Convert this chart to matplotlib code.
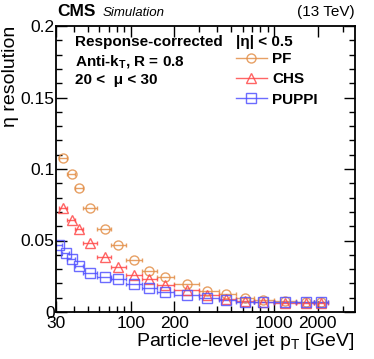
import matplotlib
matplotlib.use("Agg")
import matplotlib.pyplot as plt
from matplotlib.ticker import FixedLocator, NullFormatter, MultipleLocator
from matplotlib.lines import Line2D
import numpy as np

plt.rcParams['font.family'] = ['Liberation Sans', 'DejaVu Sans']
plt.rcParams['mathtext.fontset'] = 'custom'
plt.rcParams['mathtext.rm'] = 'Liberation Sans'
plt.rcParams['mathtext.it'] = 'Liberation Sans:italic'
plt.rcParams['mathtext.bf'] = 'Liberation Sans:bold'

# --- data ---
pt_pf = [33.7, 38.6, 43.4, 51.9, 65.7, 81.4, 105, 133, 173, 246, 339, 463, 622, 836, 1185, 1653, 2106]
lo_pf = [31.5, 36, 41, 46.5, 57.5, 72.5, 92, 120, 152, 200, 300, 410, 540, 720, 1000, 1420, 1900]
hi_pf = [36, 41, 46.5, 57.5, 72.5, 92, 120, 152, 200, 300, 410, 540, 720, 1000, 1420, 1900, 2380]
res_pf = [0.108, 0.0963, 0.0867, 0.0725, 0.0583, 0.0466, 0.0364, 0.0287, 0.0247, 0.0194, 0.0150,
          0.0125, 0.0100, 0.0084, 0.0076, 0.0072, 0.0071]
res_chs = [0.0725, 0.0643, 0.0580, 0.0480, 0.0383, 0.0316, 0.0257, 0.0231, 0.0188, 0.0152, 0.0117,
           0.0090, 0.0078, 0.0068, 0.0066, 0.0065, 0.0065]
pt_puppi = [31.4, 35.2, 38.6, 43.4, 51.9, 65.7, 81.4, 105, 133, 173, 246, 339, 463, 622, 836, 1185, 1653, 2106]
lo_puppi = [30, 33, 36, 41, 46.5, 57.5, 72.5, 92, 120, 152, 200, 300, 410, 540, 720, 1000, 1420, 1900]
hi_puppi = [33, 37, 41, 46.5, 57.5, 72.5, 92, 120, 152, 200, 300, 410, 540, 720, 1000, 1420, 1900, 2380]
res_puppi = [0.0472, 0.0410, 0.0373, 0.0322, 0.0275, 0.0245, 0.0229, 0.0199, 0.0166, 0.0140, 0.0117,
             0.0096, 0.0084, 0.0073, 0.0068, 0.0067, 0.0067, 0.0067]

xticks = [30, 100, 200, 1000, 2000]
xtick_labels = ['30', '100', '200', '1000', '2000']
labels = ['PF', 'CHS', 'PUPPI']

c_pf = '#E3904A'
c_chs = '#FF4A4A'
c_puppi = '#5252FF'

fig = plt.figure(figsize=(3.74, 3.59), dpi=100)
ax = fig.add_axes([56/374, 1 - 312/359, (355 - 56)/374, (312 - 26)/359])

def draw(pt, lo, hi, res, color, marker, ms):
    pt = np.array(pt); lo = np.array(lo); hi = np.array(hi)
    xerr = [pt - lo, hi - pt]
    ax.errorbar(pt, res, xerr=xerr, fmt=marker, color=color, mfc='none', mec=color,
                ms=ms, mew=1.0, elinewidth=1.0, capsize=1.5, capthick=1.0, alpha=0.85)

draw(pt_pf, lo_pf, hi_pf, res_pf, c_pf, 'o', 6.5)
draw(pt_pf, lo_pf, hi_pf, res_chs, c_chs, '^', 6.5)
draw(pt_puppi, lo_puppi, hi_puppi, res_puppi, c_puppi, 's', 6.5)

ax.set_xscale('log')
ax.set_xlim(30, 3650)
ax.set_ylim(0, 0.2)
ax.xaxis.set_major_locator(FixedLocator(xticks))
ax.set_xticklabels(xtick_labels)
ax.xaxis.set_minor_locator(FixedLocator([40, 50, 60, 70, 80, 90, 300, 400, 500, 600, 700, 800, 900, 3000]))
ax.xaxis.set_minor_formatter(NullFormatter())
ax.yaxis.set_minor_locator(MultipleLocator(0.01))
ax.set_yticks([0, 0.05, 0.1, 0.15, 0.2])
ax.set_yticklabels(['0', '0.05', '0.1', '0.15', '0.2'])

ax.tick_params(which='both', direction='in', top=True, right=True, labelsize=12.5, pad=1)
ax.tick_params(which='major', length=8, width=1)
ax.tick_params(which='minor', length=4.5, width=1)
ax.tick_params(axis='x', which='major', pad=3)
for s in ax.spines.values():
    s.set_linewidth(1.3)

ax.set_ylabel('η resolution', fontsize=14, loc='top', labelpad=1)
ax.set_xlabel(r'Particle-level jet p$_\mathregular{T}$ [GeV]', fontsize=14, loc='right', labelpad=0)

fig.text(57/374, 1 - 16/359, 'CMS', fontsize=12.5, fontweight='bold', va='baseline', ha='left')
fig.text(103/374, 1 - 16/359, 'Simulation', fontsize=9.5, style='italic', va='baseline', ha='left')
fig.text(355/374, 1 - 16/359, '(13 TeV)', fontsize=11, va='baseline', ha='right')

tkw = dict(transform=fig.transFigure, fontsize=11, fontweight='bold', va='center', ha='left')
fig.text(75/374, 1 - 42/359, 'Response-corrected', **tkw)
fig.text(75/374, 1 - 61/359, r'Anti-k$_\mathregular{T}$, R = 0.8', **tkw)
fig.text(75/374, 1 - 80/359, '20 <  μ < 30', **tkw)
fig.text(236/374, 1 - 42/359, '|η| < 0.5', **tkw)

handles = [Line2D([], [], color=c, marker=m, mfc='none', mec=c, ms=6.5, lw=1.0, alpha=0.85)
           for c, m in zip([c_pf, c_chs, c_puppi], ['o', '^', 's'])]
leg = ax.legend(handles, labels, loc='upper left',
                bbox_to_anchor=((236 - 56)/299, 1 - (52 - 26)/286), frameon=False,
                prop={'weight': 'bold', 'size': 11}, handlelength=2.0, handletextpad=0.35,
                labelspacing=0.42, borderpad=0, borderaxespad=0)

fig.savefig('out.png', dpi=100)
